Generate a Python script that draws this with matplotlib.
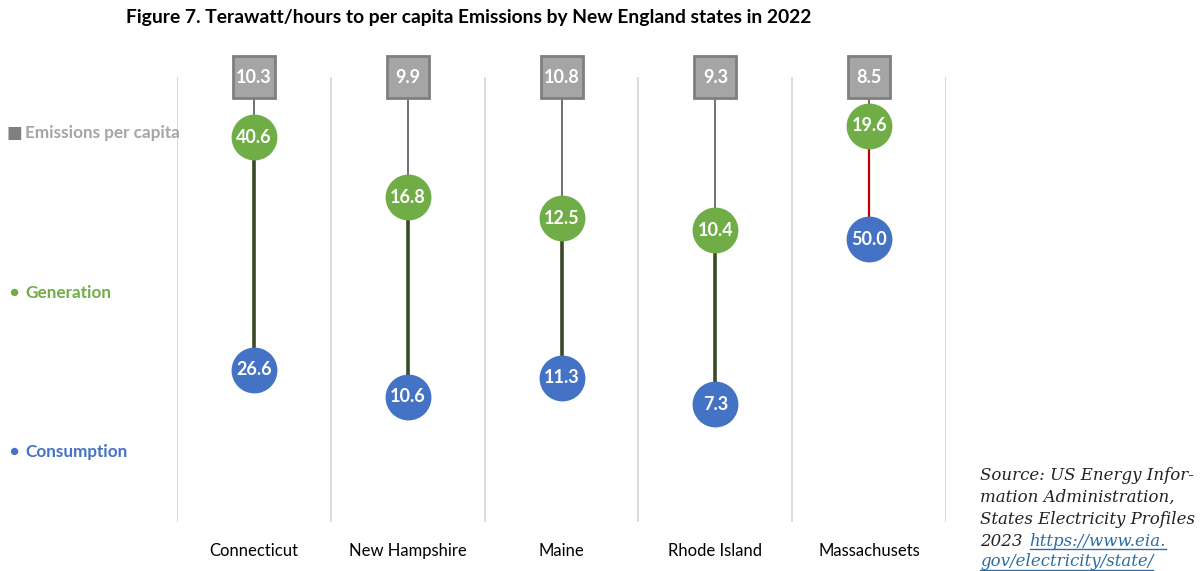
import matplotlib.pyplot as plt
import numpy as np

plt.rcParams['font.family'] = ['Lato', 'DejaVu Sans']

states = ["Connecticut", "New Hampshire", "Maine", "Rhode Island", "Massachusets"]
emissions = [10.3, 9.9, 10.8, 9.3, 8.5]
generation = [40.6, 16.8, 12.5, 10.4, 19.6]
consumption = [26.6, 10.6, 11.3, 7.3, 50.0]
# vertical positions the original chart used for each marker (chart units, 0-100)
emis_pos = [100, 100, 100, 100, 100]
gen_pos = [86.5, 73.0, 68.3, 65.6, 89.0]
cons_pos = [34.2, 28.1, 32.4, 26.5, 63.6]

grey = "#a5a5a5"
green = "#70ad47"
blue = "#4472c4"
link = "#2e6da4"

fig = plt.figure(figsize=(12.03, 5.71), dpi=100)
ax = fig.add_axes([0.1471, 0.0858, 0.6393, 0.7793])
x = np.arange(len(states))
ax.set_xlim(-0.5, len(states) - 0.5)
ax.set_ylim(0, 100)

for b in np.arange(-0.5, len(states), 1.0):
    ax.axvline(b, color="#d9d9d9", lw=1.3, zorder=0)

for i in x:
    ax.plot([i, i], [emis_pos[i], gen_pos[i]], color="#595959", lw=1.2, zorder=1, clip_on=False)
    if consumption[i] > generation[i]:
        ax.plot([i, i], [gen_pos[i], cons_pos[i]], color="#c00000", lw=1.6, zorder=1)
    else:
        ax.plot([i, i], [gen_pos[i], cons_pos[i]], color="#3b4a26", lw=2.6, zorder=1)

ax.plot(x, emis_pos, 's', ms=30, mfc=grey, mec="#7f7f7f", mew=2, ls='none', zorder=3, clip_on=False)
ax.plot(x, gen_pos, 'o', ms=32, mfc=green, mec=green, ls='none', zorder=3)
ax.plot(x, cons_pos, 'o', ms=32, mfc=blue, mec=blue, ls='none', zorder=3)

for i in x:
    ax.text(i, emis_pos[i], f"{emissions[i]:.1f}", color="white", fontsize=13, fontweight='bold',
            ha='center', va='center', zorder=4)
    ax.text(i, gen_pos[i], f"{generation[i]:.1f}", color="white", fontsize=13, fontweight='bold',
            ha='center', va='center', zorder=4)
    ax.text(i, cons_pos[i], f"{consumption[i]:.1f}", color="white", fontsize=13, fontweight='bold',
            ha='center', va='center', zorder=4)

ax.set_xticks(x)
ax.set_xticklabels(states, fontsize=12)
ax.tick_params(axis='x', length=0, pad=15)
ax.set_yticks([])
for s in ax.spines.values():
    s.set_visible(False)

# legend at left
fig.text(14 / 1203, 1 - 133 / 571, "■", color="#7f7f7f", fontsize=12, ha='center', va='center')
fig.text(25 / 1203, 1 - 133 / 571, "Emissions per capita", color=grey, fontsize=12.3, fontweight='bold', va='center')
fig.text(14 / 1203, 1 - 293 / 571, "●", color=green, fontsize=11, ha='center', va='center')
fig.text(25 / 1203, 1 - 293 / 571, "Generation", color=green, fontsize=12.3, fontweight='bold', va='center')
fig.text(14 / 1203, 1 - 452 / 571, "●", color=blue, fontsize=11, ha='center', va='center')
fig.text(25 / 1203, 1 - 452 / 571, "Consumption", color=blue, fontsize=12.3, fontweight='bold', va='center')

fig.text(126 / 1203, 1 - 17 / 571, "Figure 7. Terawatt/hours to per capita Emissions by New England states in 2022",
         fontsize=13.9, fontweight='bold', va='center', ha='left')

serif = dict(family='DejaVu Serif', style='italic', fontsize=12, va='center')
src = ["Source: US Energy Infor-", "mation Administration,", "States Electricity Profiles"]
for k, line in enumerate(src):
    fig.text(980 / 1203, 1 - (475 + 22 * k) / 571, line, color="#222222", **serif)
t0 = fig.text(980 / 1203, 1 - 541 / 571, "2023", color="#222222", **serif)
fig.canvas.draw()
r = fig.canvas.get_renderer()
bb = t0.get_window_extent(r)
t1 = fig.text((bb.x1 + 7) / 1203, 1 - 541 / 571, "https://www.eia.", color=link, **serif)
t2 = fig.text(980 / 1203, 1 - 562 / 571, "gov/electricity/state/", color=link, **serif)
fig.canvas.draw()
for t in (t1, t2):
    b = t.get_window_extent(r)
    yy = (b.y0 + 1) / 571
    fig.add_artist(plt.Line2D([b.x0 / 1203, b.x1 / 1203], [yy, yy], color=link, lw=1))

fig.savefig("out.png", dpi=100)
